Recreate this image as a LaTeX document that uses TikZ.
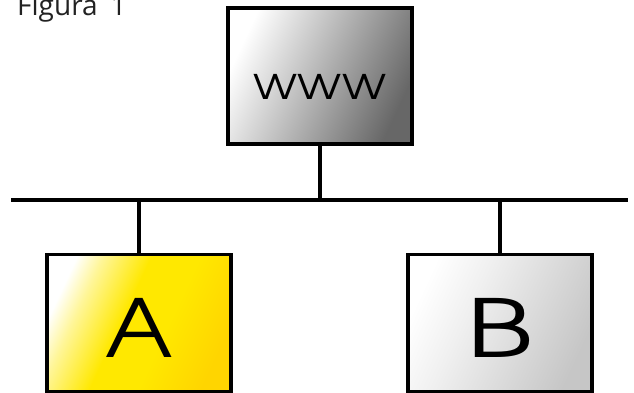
\documentclass[tikz,border=0pt]{standalone}
\usepackage{fontspec}
\setmainfont{Open Sans}
\newfontfamily\geofont{texgyreadventor-regular.otf}
\definecolor{wwwdark}{HTML}{676767}
\definecolor{ayellow}{HTML}{FFE800}
\definecolor{agold}{HTML}{FFD500}
\definecolor{bgray}{HTML}{C6C6C6}
\definecolor{titlegray}{HTML}{222222}
\pgfdeclareverticalshading{yellowsh}{100bp}{color(0bp)=(agold); color(25bp)=(agold); color(42bp)=(ayellow); color(55bp)=(ayellow); color(68bp)=(ayellow!40!white); color(75bp)=(white); color(100bp)=(white)}
\pgfdeclareverticalshading{graysh}{100bp}{color(0bp)=(wwwdark); color(25bp)=(wwwdark); color(75bp)=(white); color(100bp)=(white)}
\pgfdeclareverticalshading{lightsh}{100bp}{color(0bp)=(bgray); color(25bp)=(bgray); color(60bp)=(gray!12); color(75bp)=(white); color(100bp)=(white)}
\begin{document}
\begin{tikzpicture}[x=1pt,y=-1pt,
  box/.style={draw=black,line width=3.5pt,rectangle,inner sep=0pt,minimum width=184pt},
  wire/.style={line width=3.2pt}]
\useasboundingbox (0,0) rectangle (634,392);
\clip (0,0) rectangle (634,392);
\node[anchor=base west,inner sep=0pt,text=titlegray,font=\fontsize{28}{28}\selectfont] (title) at (17,15) {Figura\hspace{0.45em}1};
\node[box,shading=graysh,shading angle=65,minimum height=136pt,
  font=\geofont\fontsize{34}{34}\selectfont,text height=47pt,text depth=0pt] (www) at (320,76) {\scalebox{1.35}[1]{WWW}};
\node[box,shading=yellowsh,shading angle=65,minimum height=137pt,
  font=\geofont\fontsize{80}{80}\selectfont,text height=69pt,text depth=0pt] (a) at (139,323) {\scalebox{1.14}[1]{A}};
\node[box,shading=lightsh,shading angle=65,minimum height=137pt,
  font=\geofont\fontsize{80}{80}\selectfont,text height=69pt,text depth=0pt] (b) at (500,323) {\scalebox{1.45}[1]{B}};
\coordinate (busL) at (11,200);
\coordinate (busR) at (628,200);
\draw[wire] (busL) -- (busR);
\draw[wire] (www.south) -- (www.south |- busL);
\draw[wire] (a.north) -- (a.north |- busL);
\draw[wire] (b.north) -- (b.north |- busL);
\end{tikzpicture}
\end{document}
